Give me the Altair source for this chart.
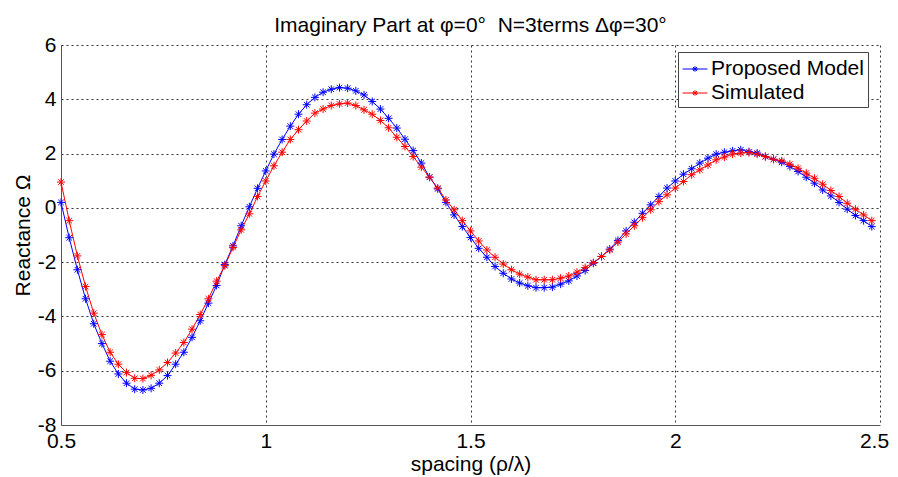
import altair as alt
import pandas as pd

# sampling grid of spacing rho/lambda
x_vals = [round(0.5 + 0.02 * i, 2) for i in range(100)]

proposed = [
    0.20, -1.10, -2.28, -3.35, -4.27, -5.00, -5.65, -6.12, -6.46, -6.68,
    -6.71, -6.65, -6.46, -6.18, -5.76, -5.32, -4.77, -4.16, -3.51, -2.86,
    -2.09, -1.40, -0.66, 0.04, 0.72, 1.36, 1.98, 2.52, 3.01, 3.45,
    3.80, 4.07, 4.26, 4.37, 4.43, 4.41, 4.31, 4.16, 3.92, 3.64,
    3.30, 2.94, 2.53, 2.11, 1.65, 1.13, 0.70, 0.20, -0.26, -0.69,
    -1.09, -1.49, -1.82, -2.16, -2.41, -2.62, -2.77, -2.87, -2.94, -2.94,
    -2.92, -2.81, -2.69, -2.51, -2.31, -2.04, -1.79, -1.52, -1.20, -0.85,
    -0.53, -0.20, 0.11, 0.42, 0.73, 0.99, 1.24, 1.44, 1.65, 1.83,
    1.98, 2.05, 2.10, 2.14, 2.07, 2.02, 1.89, 1.79, 1.68, 1.52,
    1.34, 1.13, 0.91, 0.66, 0.44, 0.20, -0.05, -0.28, -0.47, -0.69,
]

simulated = [
    0.95, -0.47, -1.77, -2.90, -3.88, -4.67, -5.32, -5.76, -6.07, -6.28,
    -6.29, -6.17, -5.97, -5.70, -5.35, -4.96, -4.47, -3.93, -3.35, -2.70,
    -2.13, -1.46, -0.81, -0.22, 0.42, 0.99, 1.55, 2.05, 2.52, 2.88,
    3.20, 3.49, 3.64, 3.77, 3.83, 3.86, 3.77, 3.61, 3.45, 3.22,
    2.95, 2.60, 2.26, 1.89, 1.50, 1.13, 0.73, 0.29, -0.07, -0.47,
    -0.85, -1.22, -1.55, -1.82, -2.07, -2.28, -2.44, -2.55, -2.65, -2.65,
    -2.65, -2.59, -2.51, -2.37, -2.20, -2.02, -1.79, -1.55, -1.26, -0.96,
    -0.66, -0.36, -0.07, 0.23, 0.48, 0.73, 0.97, 1.22, 1.40, 1.58,
    1.77, 1.87, 1.98, 2.02, 2.04, 1.98, 1.89, 1.79, 1.73, 1.61,
    1.46, 1.28, 1.09, 0.87, 0.64, 0.42, 0.17, -0.05, -0.26, -0.47,
]

series_names = ["Proposed Model", "Simulated"]
series_colors = ["#0000ff", "#ff0000"]
x_ticks = [0.5, 1, 1.5, 2, 2.5]
y_ticks = [-8, -6, -4, -2, 0, 2, 4, 6]

rows = []
for name, vals in zip(series_names, [proposed, simulated]):
    for xv, yv in zip(x_vals, vals):
        rows.append({"x": xv, "y": yv, "series": name})
df = pd.DataFrame(rows)

FONT = "Liberation Sans"
ASTERISK = "M-1,0L1,0M0,-1L0,1M-0.7,-0.7L0.7,0.7M-0.7,0.7L0.7,-0.7"
LEGEND_SYMBOL = ("M-1,0L1,0M0,-0.22L0,0.22M-0.22,0L0.22,0"
                 "M-0.16,-0.16L0.16,0.16M-0.16,0.16L0.16,-0.16")

x_enc = alt.X("x:Q", scale=alt.Scale(domain=[0.5, 2.5], nice=False, zero=False),
              axis=alt.Axis(values=x_ticks, title="spacing (ρ/λ)", labelFlush=False,
                            labelOffset={"condition": {"test": "datum.value == 2.5",
                                                       "value": -6},
                                         "value": 0},
                            labelExpr="'' + datum.value"))
y_enc = alt.Y("y:Q", scale=alt.Scale(domain=[-8, 6], nice=False, zero=False),
              axis=alt.Axis(values=y_ticks, title="Reactance Ω", labelFlush=False,
                            labelExpr="'' + datum.value"))
color_scale = alt.Scale(domain=series_names, range=series_colors)

lines = alt.Chart(df).mark_line(strokeWidth=1).encode(
    x=x_enc, y=y_enc,
    color=alt.Color("series:N", scale=color_scale, legend=alt.Legend(
        title=None, orient="none", legendX=617, legendY=7,
        symbolType=LEGEND_SYMBOL, symbolSize=620, symbolStrokeWidth=1,
        symbolFillColor="transparent",
        labelFont=FONT, labelFontSize=21, labelColor="black", labelOffset=3,
        strokeColor="#444", fillColor="white", padding=4, rowPadding=1,
        labelLimit=300)),
    detail="series:N",
)
points = alt.Chart(df).mark_point(shape=ASTERISK, size=64, filled=False,
                                  strokeWidth=1, opacity=1).encode(
    x="x:Q", y="y:Q",
    color=alt.Color("series:N", scale=color_scale, legend=None),
)

chart = alt.layer(lines, points).properties(
    width=819, height=380,
    title=alt.TitleParams("Imaginary Part at φ=0°\u00a0\u00a0N=3terms Δφ=30°",
                          font=FONT, fontSize=21, fontWeight="normal",
                          color="black", anchor="middle", offset=-2),
    autosize=alt.AutoSizeParams(type="none"),
    padding={"left": 53, "top": 37, "right": 10, "bottom": 60},
).configure_view(stroke=None).configure_axis(
    labelFont=FONT, labelFontSize=21, labelColor="black",
    titleFont=FONT, titleFontSize=21, titleFontWeight="normal", titleColor="black",
    domainColor="#555", domainWidth=1, ticks=False, labelPadding=5,
    gridColor="#333", gridDash=[2, 3], gridOpacity=1, gridWidth=1,
).configure_axisY(titlePadding=4).configure_axisX(titlePadding=2)

chart.save("out.html", embed_options={"renderer": "svg", "actions": False})
